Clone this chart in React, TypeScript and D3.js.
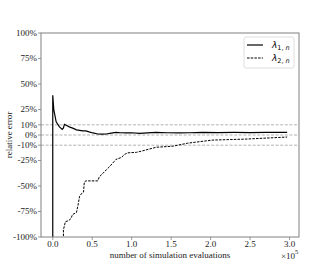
import React from "react";
import * as d3 from "d3";

const xTicks = [0, 0.5, 1.0, 1.5, 2.0, 2.5, 3.0];
const yTicks = [100, 75, 50, 25, 10, 0, -10, -25, -50, -75, -100];
const refLines = [10, 0, -10];

const lambda1X = [0, 0, 0.013, 0.043, 0.085, 0.12, 0.135, 0.148, 0.17, 0.21, 0.26, 0.3, 0.34, 0.38, 0.42, 0.46, 0.51, 0.57, 0.62, 0.68, 0.74, 0.8, 0.86, 0.93, 1.0, 1.1, 1.2, 1.31, 1.45, 1.6, 1.73, 1.9, 2.1, 2.3, 2.5, 2.7, 2.97];
const lambda1Y = [-100, 39, 25, 13, 8, 5.5, 7, 10.5, 9.5, 8, 6.5, 5, 4.5, 4, 4, 3, 2, 1, 0.8, 1, 1.8, 2.5, 2.2, 2, 2.2, 1.5, 2, 2.5, 2.2, 2, 2.2, 2.5, 2.3, 2.5, 2.4, 2.5, 2.5];

const lambda2X = [0.13, 0.135, 0.135, 0.16, 0.2, 0.23, 0.25, 0.3, 0.32, 0.34, 0.37, 0.39, 0.4, 0.42, 0.57, 0.59, 0.63, 0.68, 0.72, 0.8, 0.87, 0.91, 0.95, 1.06, 1.14, 1.31, 1.52, 1.71, 2.02, 2.45, 2.97];
const lambda2Y = [-110, -100, -93, -85, -84, -82, -78, -76, -69, -60, -57, -56, -46, -45, -45, -41, -38, -34, -31, -24, -22, -19, -17.5, -17, -15.5, -12, -11, -8, -5, -4, -2];

const W = 333;
const H = 267;
const L = 41, R = 299, T = 33, B = 237;

export default function App() {
  const x = d3.scaleLinear().domain([-0.149, 3.12]).range([L, R]);
  const y = d3.scaleLinear().domain([-100, 100]).range([B, T]);
  const line = d3
    .line<[number, number]>()
    .x((d) => x(d[0]))
    .y((d) => y(d[1]));
  const d1 = lambda1X.map((v, i) => [v, lambda1Y[i]] as [number, number]);
  const d2 = lambda2X.map((v, i) => [v, lambda2Y[i]] as [number, number]);
  const serif = "'Liberation Serif', 'Times New Roman', serif";
  const sans = "'DejaVu Sans', sans-serif";

  return (
    <svg
      width={W}
      height={H}
      style={{ position: "absolute", left: 0, top: 0, background: "#fff" }}
    >
      <defs>
        <clipPath id="plotclip">
          <rect x={L} y={T} width={R - L} height={B - T} />
        </clipPath>
      </defs>
      {refLines.map((v) => (
        <line
          key={v}
          x1={L}
          x2={R}
          y1={y(v)}
          y2={y(v)}
          stroke="#a0a0a0"
          strokeWidth={0.8}
          strokeDasharray="3,1.6"
        />
      ))}
      <g clipPath="url(#plotclip)">
        <path d={line(d1) || ""} fill="none" stroke="#000" strokeWidth={1.2} />
        <path
          d={line(d2) || ""}
          fill="none"
          stroke="#000"
          strokeWidth={1}
          strokeDasharray="2.5,1.2"
        />
      </g>
      <rect x={L} y={T} width={R - L} height={B - T} fill="none" stroke="#808080" strokeWidth={1} />
      {yTicks.map((t) => (
        <g key={t}>
          <line x1={L - 3} x2={L} y1={y(t)} y2={y(t)} stroke="#808080" strokeWidth={0.8} />
          <text
            x={L - 4}
            y={y(t)}
            dy="0.33em"
            textAnchor="end"
            fontFamily={serif}
            fontSize={9}
            fill="#222"
          >
            {t + "%"}
          </text>
        </g>
      ))}
      {xTicks.map((t) => (
        <g key={t}>
          <line x1={x(t)} x2={x(t)} y1={B} y2={B + 3} stroke="#808080" strokeWidth={0.8} />
          <text
            x={x(t)}
            y={B + 10}
            textAnchor="middle"
            fontFamily={serif}
            fontSize={9}
            fill="#222"
          >
            {t.toFixed(1)}
          </text>
        </g>
      ))}
      <text
        x={(L + R) / 2}
        y={258}
        textAnchor="middle"
        fontFamily={serif}
        fontSize={9}
        fill="#222"
      >
        number of simulation evaluations
      </text>
      <text x={281} y={259} fontFamily={serif} fontSize={9} fill="#222">
        ×10
        <tspan dy={-5} fontSize={6.5}>
          5
        </tspan>
      </text>
      <text
        transform={`translate(12, ${(T + B) / 2}) rotate(-90)`}
        textAnchor="middle"
        fontFamily={serif}
        fontSize={9}
        fill="#222"
      >
        relative error
      </text>
      <g>
        <rect
          x={244}
          y={37}
          width={50}
          height={31}
          rx={2}
          fill="#fff"
          fillOpacity={0.8}
          stroke="#d5d5d5"
          strokeWidth={0.8}
        />
        <line x1={247} x2={263} y1={45} y2={45} stroke="#000" strokeWidth={1.2} />
        <line
          x1={247}
          x2={263}
          y1={58}
          y2={58}
          stroke="#000"
          strokeWidth={1}
          strokeDasharray="2.5,1.2"
        />
        <text x={272} y={48} fontFamily={sans} fontSize={9} fill="#000">
          <tspan fontStyle="italic">λ</tspan>
          <tspan dy={2} fontSize={6.5}>1, </tspan>
          <tspan fontSize={6.5} fontStyle="italic">n</tspan>
        </text>
        <text x={272} y={61} fontFamily={sans} fontSize={9} fill="#000">
          <tspan fontStyle="italic">λ</tspan>
          <tspan dy={2} fontSize={6.5}>2, </tspan>
          <tspan fontSize={6.5} fontStyle="italic">n</tspan>
        </text>
      </g>
    </svg>
  );
}
